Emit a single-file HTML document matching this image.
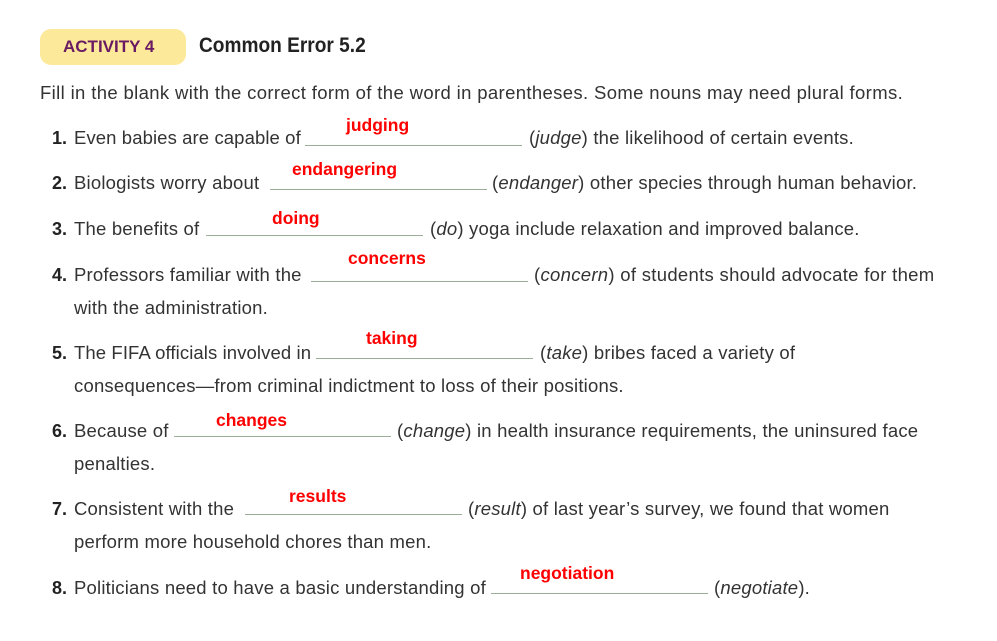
<!DOCTYPE html>
<html><head><style>
body{margin:0;width:997px;height:641px;background:#fff;position:relative;font-family:"Liberation Sans",sans-serif;color:#333;overflow:hidden}
.a{position:absolute;white-space:nowrap}
.l{position:absolute;font-size:18.5px;letter-spacing:0.2px;white-space:nowrap;line-height:20px}
.n{position:absolute;font-weight:bold;font-size:18px;color:#222;text-align:right;width:30px;left:37px;line-height:20px}
.b{position:absolute;width:217px;height:0;border-bottom:1px solid #9aae98}
.r{position:absolute;color:#f00;font-weight:bold;font-size:17.5px;line-height:20px}
i{font-style:italic}
</style></head><body>
<div class="a" style="left:40px;top:29px;width:146px;height:36px;background:#fde99a;border-radius:11px;"></div>
<div class="a" style="left:63px;top:36px;font-weight:bold;font-size:17px;color:#6a1a62;line-height:22px">ACTIVITY 4</div>
<div class="a" style="left:199px;top:33px;font-weight:bold;font-size:21px;color:#222;line-height:26px;transform:scaleX(0.91);transform-origin:left">Common Error 5.2</div>
<div class="l" style="left:40px;top:83px;letter-spacing:0.36px">Fill in the blank with the correct form of the word in parentheses. Some nouns may need plural forms.</div>

<div class="n" style="top:128px">1.</div><div class="l" style="left:74px;top:128px;letter-spacing:0.1px">Even babies are capable of</div>
<div class="b" style="left:305px;top:145px"></div>
<div class="l" style="left:529px;top:128px">(<i>judge</i>) the likelihood of certain events.</div>
<div class="r" style="left:346px;top:115px">judging</div>

<div class="n" style="top:173px">2.</div><div class="l" style="left:74px;top:173px">Biologists worry about</div>
<div class="b" style="left:270px;top:189px"></div>
<div class="l" style="left:492px;top:173px">(<i>endanger</i>) other species through human behavior.</div>
<div class="r" style="left:292px;top:159px">endangering</div>

<div class="n" style="top:219px">3.</div><div class="l" style="left:74px;top:219px">The benefits of</div>
<div class="b" style="left:206px;top:235px"></div>
<div class="l" style="left:430px;top:219px">(<i>do</i>) yoga include relaxation and improved balance.</div>
<div class="r" style="left:272px;top:208px">doing</div>

<div class="n" style="top:265px">4.</div><div class="l" style="left:74px;top:265px">Professors familiar with the</div>
<div class="b" style="left:311px;top:281px"></div>
<div class="l" style="left:534px;top:265px;letter-spacing:0.3px">(<i>concern</i>) of students should advocate for them</div>
<div class="l" style="left:74px;top:298px">with the administration.</div>
<div class="r" style="left:348px;top:248px">concerns</div>

<div class="n" style="top:343px">5.</div><div class="l" style="left:74px;top:343px;letter-spacing:0.1px">The FIFA officials involved in</div>
<div class="b" style="left:316px;top:358px"></div>
<div class="l" style="left:540px;top:343px">(<i>take</i>) bribes faced a variety of</div>
<div class="l" style="left:74px;top:376px">consequences—from criminal indictment to loss of their positions.</div>
<div class="r" style="left:366px;top:328px">taking</div>

<div class="n" style="top:421px">6.</div><div class="l" style="left:74px;top:421px">Because of</div>
<div class="b" style="left:174px;top:436px"></div>
<div class="l" style="left:397px;top:421px">(<i>change</i>) in health insurance requirements, the uninsured face</div>
<div class="l" style="left:74px;top:454px">penalties.</div>
<div class="r" style="left:216px;top:410px">changes</div>

<div class="n" style="top:499px">7.</div><div class="l" style="left:74px;top:499px">Consistent with the</div>
<div class="b" style="left:245px;top:514px"></div>
<div class="l" style="left:468px;top:499px">(<i>result</i>) of last year’s survey, we found that women</div>
<div class="l" style="left:74px;top:532px">perform more household chores than men.</div>
<div class="r" style="left:289px;top:486px">results</div>

<div class="n" style="top:578px">8.</div><div class="l" style="left:74px;top:578px">Politicians need to have a basic understanding of</div>
<div class="b" style="left:491px;top:593px"></div>
<div class="l" style="left:714px;top:578px">(<i>negotiate</i>).</div>
<div class="r" style="left:520px;top:563px">negotiation</div>
</body></html>
